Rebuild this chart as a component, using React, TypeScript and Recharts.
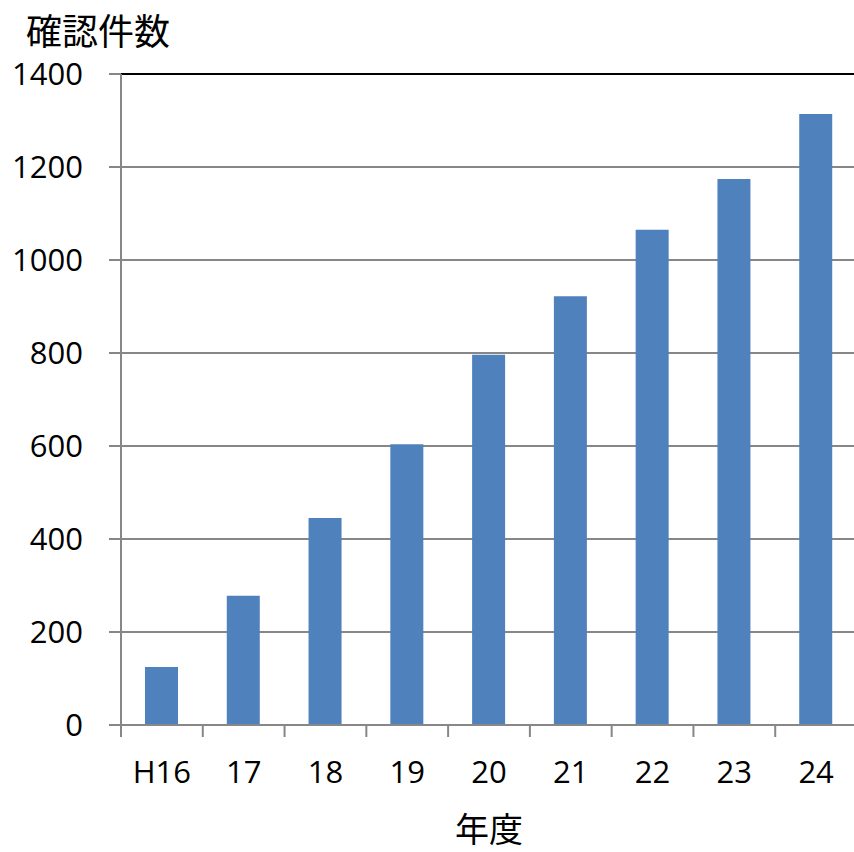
import React from 'react';
import { BarChart, Bar, XAxis, YAxis, CartesianGrid, ReferenceLine } from 'recharts';

// 年度別の確認件数
const years = ['H16', '17', '18', '19', '20', '21', '22', '23', '24'];
const counts = [125, 278, 445, 604, 796, 922, 1065, 1174, 1314];
const yTicks = [0, 200, 400, 600, 800, 1000, 1200, 1400];

const data = years.map((year, i) => ({ year, count: counts[i] }));

const CHART_W = 860;
const CHART_H = 852;
const Y_AXIS_W = 121;
const MARGIN = { top: 74, right: 3, left: 0, bottom: 0 };
const BAND = (CHART_W - Y_AXIS_W - MARGIN.right) / years.length;

const TICK_SIZE = 12;
const X_TICK_MARGIN = 24;
const AXIS_GRAY = '#878787';
const FONT = '"Open Sans", "Noto Sans", sans-serif';
const CJK_FONT = '"Noto Sans CJK JP", sans-serif';

// tick marks sit on the category boundaries, labels in the middle
const YearTick = ({ x, y, payload }: any) => {
  const edge = x - BAND / 2;
  const axisY = y - X_TICK_MARGIN - TICK_SIZE;
  return (
    <g>
      <line x1={edge} x2={edge} y1={axisY} y2={axisY + TICK_SIZE} stroke={AXIS_GRAY} strokeWidth={2} />
      <text x={x} y={y} dy="0.72em" textAnchor="middle" fill="#000" fontSize={31} fontFamily={FONT}>
        {payload.value}
      </text>
    </g>
  );
};

export default function App() {
  return (
    <div
      style={{
        position: 'fixed',
        left: 0,
        top: 0,
        width: 854,
        height: 852,
        overflow: 'hidden',
        background: '#fff',
      }}
    >
      <div
        style={{
          position: 'absolute',
          left: 26,
          top: 11,
          fontSize: 36,
          lineHeight: 1,
          fontFamily: CJK_FONT,
          color: '#000',
        }}
      >
        確認件数
      </div>
      <BarChart width={CHART_W} height={CHART_H} data={data} margin={MARGIN}>
        <CartesianGrid vertical={false} stroke={AXIS_GRAY} strokeWidth={2} />
        <XAxis
          dataKey="year"
          height={CHART_H - 725}
          tick={<YearTick />}
          tickLine={false}
          tickSize={TICK_SIZE}
          tickMargin={X_TICK_MARGIN}
          interval={0}
          axisLine={{ stroke: AXIS_GRAY, strokeWidth: 2 }}
        />
        <YAxis
          width={Y_AXIS_W}
          domain={[0, 1400]}
          ticks={yTicks}
          interval={0}
          tickSize={TICK_SIZE}
          tickMargin={26}
          tickLine={{ stroke: AXIS_GRAY, strokeWidth: 2 }}
          axisLine={{ stroke: AXIS_GRAY, strokeWidth: 2 }}
          tick={{ fill: '#000', fontSize: 31, fontFamily: FONT }}
        />
        <ReferenceLine y={1400} stroke="#000" strokeWidth={2} />
        <Bar dataKey="count" fill="#4F81BD" barSize={33} isAnimationActive={false} />
      </BarChart>
      <div
        style={{
          position: 'absolute',
          left: 0,
          width: (Y_AXIS_W * 2 + BAND * years.length),
          top: 811,
          height: 34,
          textAlign: 'center',
          fontSize: 34,
          lineHeight: '34px',
          fontFamily: CJK_FONT,
          color: '#000',
        }}
      >
        年度
      </div>
    </div>
  );
}
